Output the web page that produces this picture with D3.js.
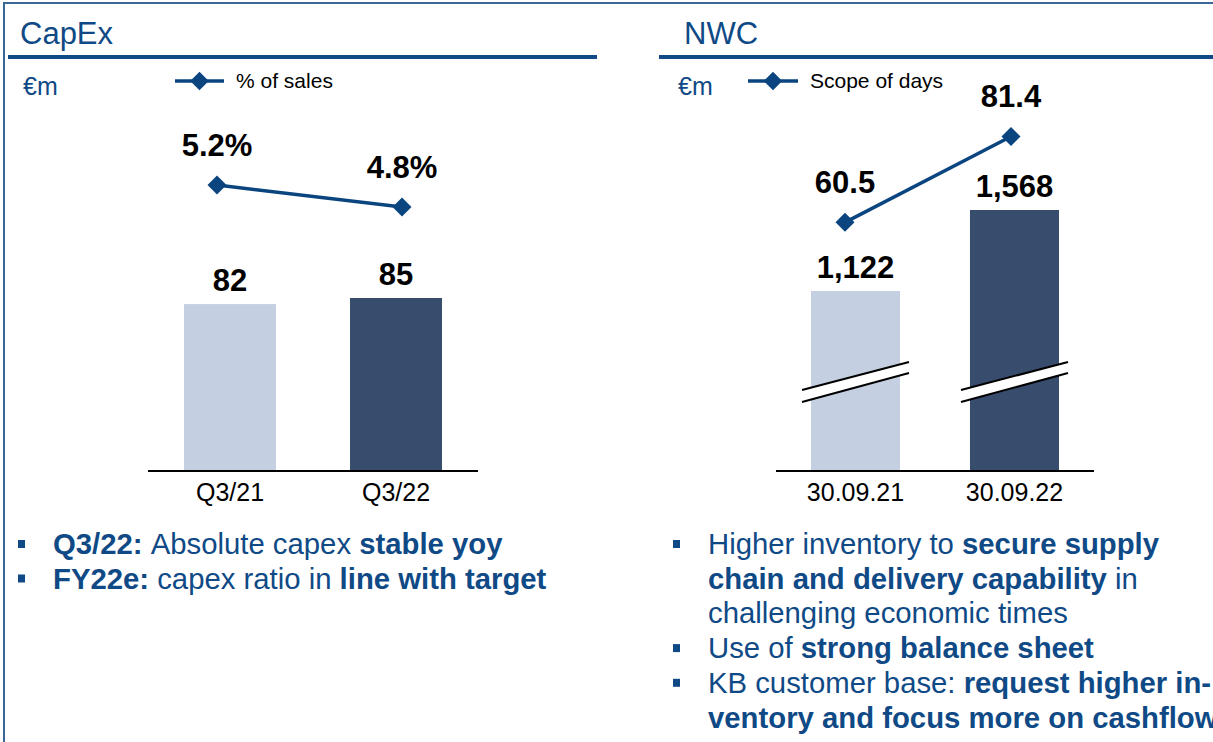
<!DOCTYPE html>
<html>
<head>
<meta charset="utf-8">
<script src="https://cdn.jsdelivr.net/npm/d3@7"></script>
<style>
  html, body { margin: 0; padding: 0; background: #fff; }
  svg { display: block; font-family: "Liberation Sans", Arial, sans-serif; }
</style>
</head>
<body>
<svg id="chart" width="1213" height="742"></svg>
<script>
// data
const capexCats = ['Q3/21', 'Q3/22'];
const capexValues = [82, 85];
const capexRatio = [5.2, 4.8];
const capexRatioLabels = ['5.2%', '4.8%'];

const nwcCats = ['30.09.21', '30.09.22'];
const nwcValues = [1122, 1568];
const nwcValueLabels = ['1,122', '1,568'];
const nwcDays = [60.5, 81.4];
const nwcDaysLabels = ['60.5', '81.4'];

// bullet texts: [text, bold?]
const capexNotes = [
  [['Q3/22: ', true], ['Absolute capex ', false], ['stable yoy', true]],
  [['FY22e: ', true], ['capex ratio in ', false], ['line with target', true]]
];
const nwcNotes = [
  { bullet: true, parts: [['Higher inventory to ', false], ['secure supply', true]] },
  { bullet: false, parts: [['chain and delivery capability', true], [' in', false]] },
  { bullet: false, parts: [['challenging economic times', false]] },
  { bullet: true, parts: [['Use of ', false], ['strong balance sheet', true]] },
  { bullet: true, parts: [['KB customer base: ', false], ['request higher in-', true]] },
  { bullet: false, parts: [['ventory and focus more on cashflow', true]] }
];

const blue = '#0f4a86';
const lineBlue = '#0b4580';
const barColors = ['#c4cfe1', '#384d6d'];

const svg = d3.select('#chart');

// frame
svg.append('path')
  .attr('d', 'M4,742 L4,3 L1213,3')
  .attr('fill', 'none')
  .attr('stroke', '#3a6797')
  .attr('stroke-width', 2);

function header(x0, x1, tx, title) {
  svg.append('text')
    .attr('x', tx).attr('y', 44)
    .attr('fill', blue)
    .attr('font-size', 31)
    .text(title);
  svg.append('line')
    .attr('x1', x0).attr('x2', x1)
    .attr('y1', 57).attr('y2', 57)
    .attr('stroke', blue)
    .attr('stroke-width', 4);
}

function legend(ux, lx0, lx1, label) {
  svg.append('text')
    .attr('x', ux).attr('y', 95)
    .attr('fill', blue)
    .attr('font-size', 25)
    .text('€m');
  svg.append('line')
    .attr('x1', lx0).attr('x2', lx1)
    .attr('y1', 81).attr('y2', 81)
    .attr('stroke', lineBlue)
    .attr('stroke-width', 3.5);
  svg.append('path')
    .attr('d', d3.symbol(d3.symbolDiamond2, 220)())
    .attr('transform', `translate(${(lx0 + lx1) / 2},81)`)
    .attr('fill', lineBlue);
  svg.append('text')
    .attr('x', lx1 + 12).attr('y', 88)
    .attr('fill', '#000')
    .attr('font-size', 21)
    .text(label);
}

function drawPanel(opt) {
  const g = svg.append('g');

  const x = d3.scaleBand()
    .domain(opt.cats)
    .range(opt.barRange)
    .paddingInner(opt.padding)
    .paddingOuter(0);

  const xp = d3.scalePoint()
    .domain(opt.cats)
    .range(opt.pointRange);

  // bars
  g.selectAll('rect.bar')
    .data(opt.values)
    .enter()
    .append('rect')
    .attr('class', 'bar')
    .attr('x', (d, i) => x(opt.cats[i]))
    .attr('width', x.bandwidth())
    .attr('y', d => opt.y(d))
    .attr('height', d => opt.baseline - opt.y(d))
    .attr('fill', (d, i) => barColors[i]);

  // axis break marks
  if (opt.breakAt) {
    opt.cats.forEach((c) => {
      const bx = x(c) - 9;
      const bw = x.bandwidth() + 18;
      const yb = opt.breakAt;
      g.append('path')
        .attr('d', `M${bx},${yb} L${bx + bw},${yb - 28} L${bx + bw},${yb - 17} L${bx},${yb + 12} Z`)
        .attr('fill', '#fff');
      g.append('line')
        .attr('x1', bx).attr('y1', yb).attr('x2', bx + bw).attr('y2', yb - 28)
        .attr('stroke', '#000').attr('stroke-width', 2);
      g.append('line')
        .attr('x1', bx).attr('y1', yb + 12).attr('x2', bx + bw).attr('y2', yb - 17)
        .attr('stroke', '#000').attr('stroke-width', 2);
    });
  }

  // baseline axis
  const axis = g.append('g')
    .attr('transform', `translate(0,${opt.baseline})`)
    .call(d3.axisBottom(x).tickSize(0).tickPadding(12));
  axis.select('.domain').remove();
  axis.append('line')
    .attr('x1', opt.axisRange[0]).attr('x2', opt.axisRange[1])
    .attr('stroke', '#000').attr('stroke-width', 2);
  axis.selectAll('text')
    .attr('font-size', 25)
    .attr('font-family', '"Liberation Sans", Arial, sans-serif')
    .attr('fill', '#000');

  // bar labels
  g.selectAll('text.vlabel')
    .data(opt.valueLabels)
    .enter()
    .append('text')
    .attr('class', 'vlabel')
    .attr('x', (d, i) => x(opt.cats[i]) + x.bandwidth() / 2)
    .attr('y', (d, i) => opt.y(opt.values[i]) - 13)
    .attr('text-anchor', 'middle')
    .attr('font-size', 31)
    .attr('font-weight', 'bold')
    .text(d => d);

  // line series
  const line = d3.line()
    .x((d, i) => xp(opt.cats[i]))
    .y(d => opt.yLine(d));
  g.append('path')
    .datum(opt.lineValues)
    .attr('d', line)
    .attr('fill', 'none')
    .attr('stroke', lineBlue)
    .attr('stroke-width', 3.5);
  g.selectAll('path.pt')
    .data(opt.lineValues)
    .enter()
    .append('path')
    .attr('class', 'pt')
    .attr('d', d3.symbol(d3.symbolDiamond2, 230)())
    .attr('transform', (d, i) => `translate(${xp(opt.cats[i])},${opt.yLine(d)})`)
    .attr('fill', lineBlue);
  g.selectAll('text.llabel')
    .data(opt.lineLabels)
    .enter()
    .append('text')
    .attr('class', 'llabel')
    .attr('x', (d, i) => xp(opt.cats[i]))
    .attr('y', (d, i) => opt.yLine(opt.lineValues[i]) - 29)
    .attr('text-anchor', 'middle')
    .attr('font-size', 31)
    .attr('font-weight', 'bold')
    .text(d => d);
}

header(8, 597, 20, 'CapEx');
header(659, 1213, 684, 'NWC');
legend(23, 175, 224, '% of sales');
legend(678, 748, 798, 'Scope of days');

drawPanel({
  cats: capexCats,
  values: capexValues,
  valueLabels: capexValues.map(String),
  lineValues: capexRatio,
  lineLabels: capexRatioLabels,
  barRange: [184, 442],
  padding: 0.446,
  pointRange: [217, 402],
  axisRange: [148, 478],
  baseline: 471,
  y: d3.scaleLinear().domain([0, 85]).range([471, 298]),
  yLine: d3.scaleLinear().domain([0, 6]).range([471, 141])
});

drawPanel({
  cats: nwcCats,
  values: nwcValues,
  valueLabels: nwcValueLabels,
  lineValues: nwcDays,
  lineLabels: nwcDaysLabels,
  barRange: [811, 1059],
  padding: 0.44,
  pointRange: [845, 1011],
  axisRange: [776, 1094],
  baseline: 471,
  breakAt: 390,
  // broken axis: bars start from a cut-off value
  y: d3.scaleLinear().domain([131, 1568]).range([471, 210]),
  yLine: d3.scaleLinear().domain([0, 100]).range([471, 60])
});

// bullets
function bulletText(x, y, parts) {
  const t = svg.append('text')
    .attr('x', x).attr('y', y)
    .attr('fill', blue)
    .attr('font-size', 29.3);
  parts.forEach(([s, b]) => {
    t.append('tspan')
      .attr('font-weight', b ? 'bold' : 'normal')
      .text(s);
  });
}

function bullet(x, y) {
  svg.append('rect')
    .attr('x', x).attr('y', y - 14)
    .attr('width', 7).attr('height', 8)
    .attr('fill', blue);
}

capexNotes.forEach((parts, i) => {
  const y = 554 + i * 34.5;
  bullet(18, y);
  bulletText(53, y, parts);
});

nwcNotes.forEach((n, i) => {
  const y = 554 + i * 34.7;
  if (n.bullet) bullet(673, y);
  bulletText(708, y, n.parts);
});
</script>
</body>
</html>
